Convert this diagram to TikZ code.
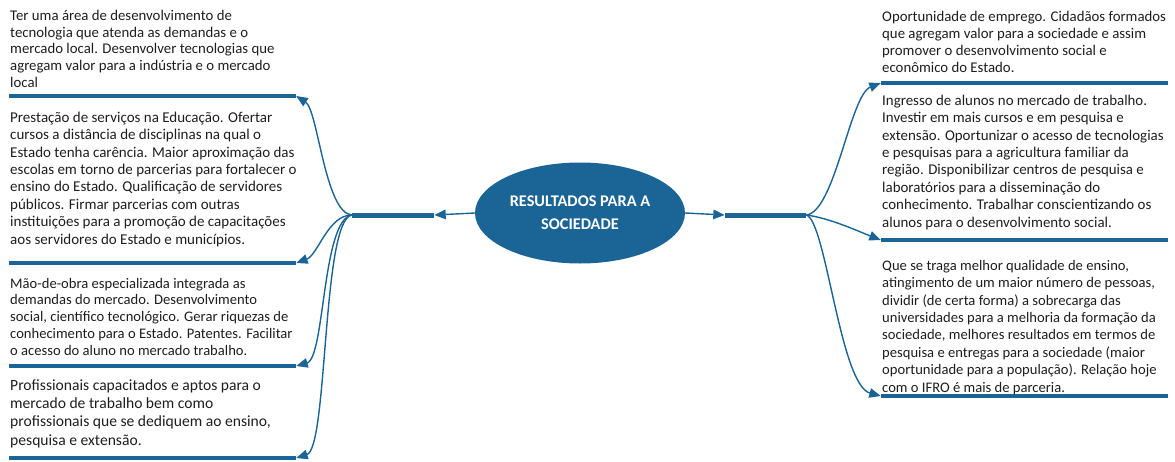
\documentclass[tikz,border=0pt]{standalone}
\usepackage{fontspec}
\setmainfont{Carlito}
\usetikzlibrary{arrows.meta,shapes.geometric}
\definecolor{mblue}{HTML}{1B6496}
\definecolor{txt}{HTML}{1E1E1E}
\tikzset{
  bar/.style={fill=mblue, draw=none, inner sep=0pt, minimum height=4.2pt, minimum width=#1},
  conn/.style={draw=mblue, line width=1.4pt, -{Triangle[length=11.5pt,width=9.5pt]}},
  txtblock/.style={anchor=base west, inner sep=0pt, align=left, text=txt},
}
\begin{document}
\begin{tikzpicture}[x=1pt,y=-1pt]
\useasboundingbox (0,0) rectangle (1175,461);
% central ellipse
\node[ellipse, fill=mblue, minimum width=210pt, minimum height=101pt, inner sep=0pt,
      text=white, align=center, font=\bfseries\fontsize{16.3}{22.7}\selectfont] (c) at (580,213)
      {RESULTADOS PARA A\\SOCIEDADE};
% hubs
\node[bar=82pt, minimum height=5pt] (HL) at (393,215) {};
\node[bar=81pt, minimum height=5pt] (HR) at (765.5,215) {};
% left bars
\node[bar=287pt] (L1) at (152.5,96) {};
\node[bar=287pt] (L2) at (152.5,263) {};
\node[bar=287pt] (L3) at (152.5,366) {};
\node[bar=287pt] (L4) at (152.5,458) {};
% right bars
\node[bar=287pt] (R1) at (1024.5,83) {};
\node[bar=287pt] (R2) at (1024.5,240) {};
\node[bar=287pt] (R3) at (1024.5,396) {};
% texts (anchored at the baseline of their last line)
\node[txtblock, font=\fontsize{14.8}{16.75}\selectfont] (t1) at (10,87.3)
{Ter uma área de desenvolvimento de\\tecnologia que atenda as demandas e o\\mercado local. Desenvolver tecnologias que\\agregam valor para a indústria e o mercado\\local};
\node[txtblock, font=\fontsize{15}{17.4}\selectfont] (t2) at (10,244)
{Prestação de serviços na Educação. Ofertar\\cursos a distância de disciplinas na qual o\\Estado tenha carência. Maior aproximação das\\escolas em torno de parcerias para fortalecer o\\ensino do Estado. Qualificação de servidores\\públicos. Firmar parcerias com outras\\instituições para a promoção de capacitações\\aos servidores do Estado e municípios.};
\node[txtblock, font=\fontsize{14.6}{16.75}\selectfont] (t3) at (10,355)
{Mão-de-obra especializada integrada as\\demandas do mercado. Desenvolvimento\\social, científico tecnológico. Gerar riquezas de\\conhecimento para o Estado. Patentes. Facilitar\\o acesso do aluno no mercado trabalho.};
\node[txtblock, font=\fontsize{15.6}{18.3}\selectfont] (t4) at (10,445)
{Profissionais capacitados e aptos para o\\mercado de trabalho bem como\\profissionais que se dediquem ao ensino,\\pesquisa e extensão.};
\node[txtblock, font=\fontsize{14.8}{16.7}\selectfont] (t5) at (882,72)
{Oportunidade de emprego. Cidadãos formados\\que agregam valor para a sociedade e assim\\promover o desenvolvimento social e\\econômico do Estado.};
\node[txtblock, font=\fontsize{14.9}{17.4}\selectfont] (t6) at (882,227)
{Ingresso de alunos no mercado de trabalho.\\Investir em mais cursos e em pesquisa e\\extensão. Oportunizar o acesso de tecnologias\\e pesquisas para a agricultura familiar da\\região. Disponibilizar centros de pesquisa e\\laboratórios para a disseminação do\\conhecimento. Trabalhar conscientizando os\\alunos para o desenvolvimento social.};
\node[txtblock, font=\fontsize{14.6}{17.4}\selectfont] (t7) at (882,392)
{Que se traga melhor qualidade de ensino,\\atingimento de um maior número de pessoas,\\dividir (de certa forma) a sobrecarga das\\universidades para a melhoria da formação da\\sociedade, melhores resultados em termos de\\pesquisa e entregas para a sociedade (maior\\oportunidade para a população). Relação hoje\\com o IFRO é mais de parceria.};
% connectors
\draw[conn] (c.west) -- (HL.east);
\draw[conn] (c.east) -- (HR.west);
\draw[conn] (HL.west) .. controls (325,213) and (318,110) .. (L1.east);
\draw[conn] (HL.west) .. controls (328,215) and (318,255) .. (L2.east);
\draw[conn] (HL.west) .. controls (322,220) and (325,358) .. (L3.east);
\draw[conn] (HL.west) .. controls (322,220) and (328,448) .. (L4.east);
\draw[conn] (HR.east) .. controls (835,212) and (850,95) .. (R1.west);
\draw[conn] (HR.east) .. controls (830,218) and (860,232) .. (R2.west);
\draw[conn] (HR.east) .. controls (826,220) and (840,385) .. (R3.west);
\end{tikzpicture}
\end{document}
